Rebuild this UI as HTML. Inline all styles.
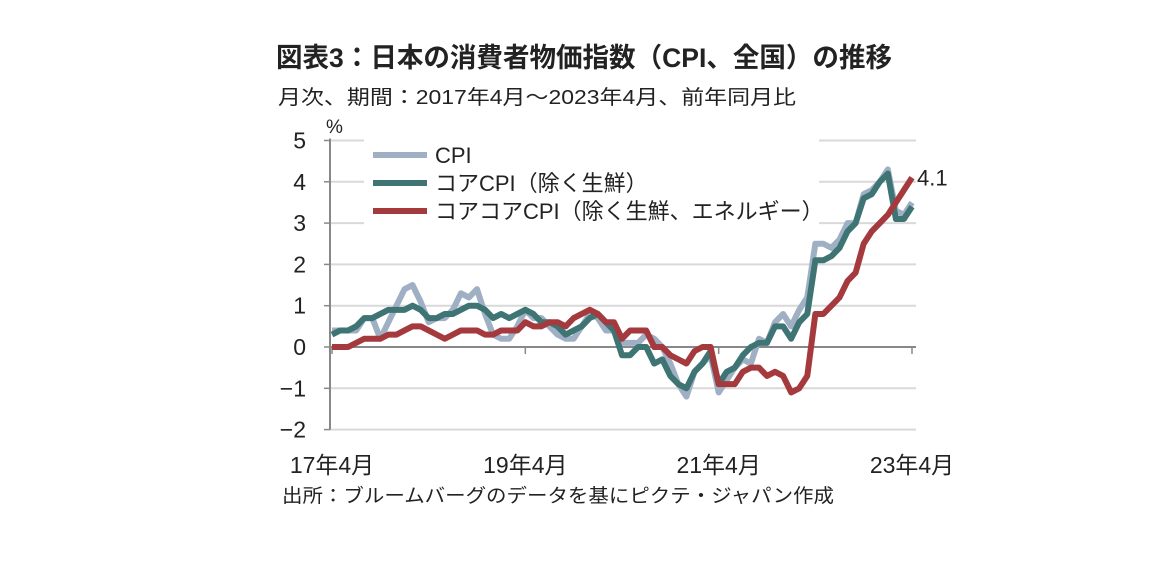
<!DOCTYPE html>
<html><head><meta charset="utf-8">
<style>
body{margin:0;background:#fff;width:1152px;height:580px;overflow:hidden;font-family:"Liberation Sans","Noto Sans CJK JP",sans-serif;}
svg text{font-family:"Liberation Sans","Noto Sans CJK JP",sans-serif;fill:#222;}
</style></head><body>
<svg id="c" width="1152" height="580">
<text x="276" y="67" font-size="27" font-weight="bold" textLength="616" lengthAdjust="spacingAndGlyphs">図表3：日本の消費者物価指数（CPI、全国）の推移</text>
<text x="278" y="104" font-size="20" fill="#333" textLength="518" lengthAdjust="spacingAndGlyphs">月次、期間：2017年4月～2023年4月、前年同月比</text>
<text x="326" y="133" font-size="19">%</text>
<text x="282" y="502" font-size="19" textLength="552" lengthAdjust="spacingAndGlyphs">出所：ブルームバーグのデータを基にピクテ・ジャパン作成</text>
<g id="grid"></g><g id="axes"></g><g id="lines"></g><g id="legend"></g>
</svg>
<script>
const yTicks=[5,4,3,2,1,0,-1,-2];
const xLabels=["17年4月","19年4月","21年4月","23年4月"];
const xLabelIdx=[0,24,48,72];
const cpi=[0.4,0.4,0.4,0.4,0.7,0.7,0.2,0.6,1.0,
1.4,1.5,1.1,0.6,0.7,0.7,0.9,1.3,1.2,1.4,0.8,0.3,
0.2,0.2,0.5,0.9,0.7,0.7,0.5,0.3,0.2,0.2,0.5,0.8,
0.7,0.4,0.4,0.1,0.1,0.1,0.3,0.2,0.0,-0.4,-0.9,-1.2,
-0.6,-0.4,-0.2,-1.1,-0.8,-0.5,-0.3,-0.4,0.2,0.1,0.6,0.8,
0.5,0.9,1.2,2.5,2.5,2.4,2.6,3.0,3.0,3.7,3.8,4.0,
4.3,3.3,3.2,3.5];
const core=[0.3,0.4,0.4,0.5,0.7,0.7,0.8,0.9,0.9,
0.9,1.0,0.9,0.7,0.7,0.8,0.8,0.9,1.0,1.0,0.9,0.7,
0.8,0.7,0.8,0.9,0.8,0.6,0.6,0.5,0.3,0.4,0.5,0.7,
0.8,0.6,0.4,-0.2,-0.2,0.0,0.0,-0.4,-0.3,-0.7,-0.9,-1.0,
-0.6,-0.4,-0.1,-0.9,-0.6,-0.5,-0.2,0.0,0.1,0.1,0.5,0.5,
0.2,0.6,0.8,2.1,2.1,2.2,2.4,2.8,3.0,3.6,3.7,4.0,
4.2,3.1,3.1,3.4];
const coreCore=[0.0,0.0,0.0,0.1,0.2,0.2,0.2,0.3,0.3,
0.4,0.5,0.5,0.4,0.3,0.2,0.3,0.4,0.4,0.4,0.3,0.3,
0.4,0.4,0.4,0.6,0.5,0.5,0.6,0.6,0.5,0.7,0.8,0.9,
0.8,0.6,0.6,0.2,0.4,0.4,0.4,0.0,0.0,-0.2,-0.3,-0.4,
-0.1,0.0,0.0,-0.9,-0.9,-0.9,-0.6,-0.5,-0.5,-0.7,-0.6,-0.7,
-1.1,-1.0,-0.7,0.8,0.8,1.0,1.2,1.6,1.8,2.5,2.8,3.0,
3.2,3.5,3.8,4.1];
const seriesNames=["CPI","コアCPI（除く生鮮）","コアコアCPI（除く生鮮、エネルギー）"];
const NS="http://www.w3.org/2000/svg";
const X=i=>332+i*(912-332)/72;
const Y=v=>347-v*41.3;
function mk(t,a,p){const e=document.createElementNS(NS,t);for(const k in a)e.setAttribute(k,a[k]);p.appendChild(e);return e;}
const grid=document.getElementById('grid'),axes=document.getElementById('axes'),lines=document.getElementById('lines'),leg=document.getElementById('legend');
yTicks.forEach(v=>{
 if(v!==0){const l=mk('line',{x1:330,x2:916,y1:Y(v),y2:Y(v),stroke:'#d9d9d9','stroke-width':2},grid);
 
 }
 const t=mk('text',{x:306,y:Y(v)+8,'font-size':23,'text-anchor':'end'},axes);t.textContent=v===-1||v===-2?'−'+Math.abs(v):v;
 
 
 const tk=mk('line',{x1:324,x2:330,y1:Y(v),y2:Y(v),stroke:'#888','stroke-width':1.5},axes);
 
 
});
const ya=mk('line',{x1:330,x2:330,y1:Y(5)-2,y2:Y(-2),stroke:'#888','stroke-width':2},axes);


const za=mk('line',{x1:330,x2:916,y1:Y(0),y2:Y(0),stroke:'#888','stroke-width':2},axes);


xLabels.forEach((s,k)=>{
 const x=X(xLabelIdx[k]);
 const tk=mk('line',{x1:x,x2:x,y1:Y(0),y2:Y(0)+7,stroke:'#888','stroke-width':1.5},axes);
 
 
 const t=mk('text',{x:x,y:473,'font-size':23,'text-anchor':'middle'},axes);t.textContent=s;
 
 
});
const lb=mk('rect',{x:364,y:138,width:455,height:90,fill:'#fff'},leg);


const cols=['#9fb0c4','#3f7474','#a53a3e'];
[cpi,core,coreCore].forEach((d,s)=>{
 const p=mk('polyline',{points:d.map((v,i)=>X(i)+','+Y(v)).join(' '),fill:'none',stroke:cols[s],'stroke-width':6,'stroke-linejoin':'round'},lines);
 
 
 const ly=155+s*28;
 const ll=mk('line',{x1:373,x2:427,y1:ly,y2:ly,stroke:cols[s],'stroke-width':6},leg);
 
 
 const lt=mk('text',{x:435,y:ly+8,'font-size':22},leg);lt.textContent=seriesNames[s];
 
 
});
const last=coreCore[coreCore.length-1];
const vl=mk('text',{x:917,y:Y(last)+8,'font-size':22},lines);vl.textContent=last.toFixed(1);


</script>
</body></html>
